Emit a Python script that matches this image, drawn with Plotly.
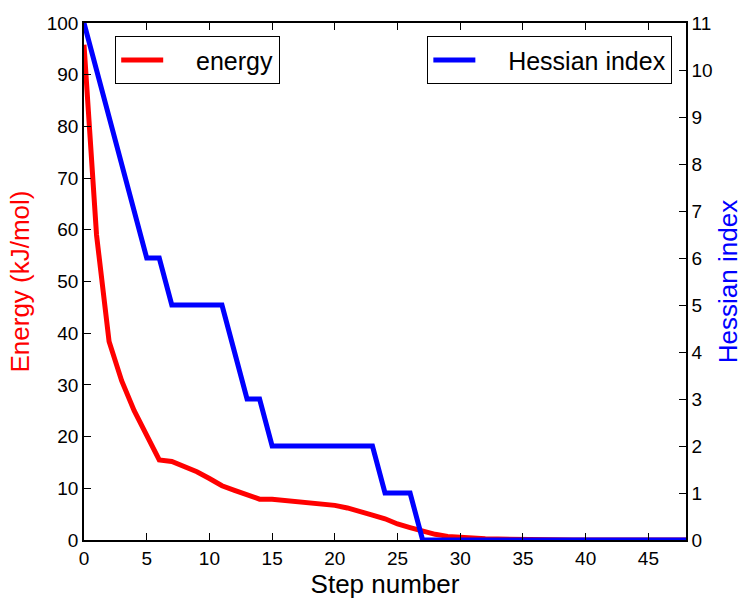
import plotly.graph_objects as go

steps = list(range(49))
energy = [95.8, 59.0, 38.4, 30.8, 25.0, 20.0, 15.5, 15.2, 14.3, 13.2, 11.9,
          10.5, 9.6, 8.7, 7.9, 7.9, 7.7, 7.5, 7.3, 7.0, 6.7, 6.2, 5.6, 4.8, 4.1,
          3.1, 2.4, 1.7, 1.1, 0.7, 0.5, 0.35, 0.25, 0.18, 0.12, 0.08, 0.05, 0.04,
          0.03, 0.02, 0.02, 0.01, 0.01, 0.01, 0.0, 0.0, 0.0, 0.0, 0.0]
hessian = [11, 10, 9, 8, 7, 6, 6, 5, 5, 5, 5, 5, 4, 3, 3, 2, 2, 2, 2, 2, 2, 2, 2, 2,
           1, 1, 1, 0, 0, 0, 0, 0, 0, 0, 0, 0, 0, 0, 0, 0, 0, 0, 0, 0, 0, 0, 0, 0, 0]

x_ticks = [0, 5, 10, 15, 20, 25, 30, 35, 40, 45]
y_ticks = list(range(0, 101, 10))
y2_ticks = list(range(0, 12))

FONT = "Arial, Liberation Sans, sans-serif"
NB = "\u00a0"

fig = go.Figure()
fig.add_trace(go.Scatter(x=steps, y=energy, mode="lines", name=NB * 4 + "energy",
                         line=dict(color="#ff0000", width=5), yaxis="y",
                         legend="legend"))
fig.add_trace(go.Scatter(x=steps, y=hessian, mode="lines",
                         name=NB * 4 + "Hessian index",
                         line=dict(color="#0000ff", width=5), yaxis="y2",
                         legend="legend2"))

axis_common = dict(ticks="inside", ticklen=7, tickwidth=1, tickcolor="black",
                   showline=True, linecolor="black", linewidth=1.5,
                   showgrid=False, zeroline=False, automargin=False,
                   tickfont=dict(size=19))

fig.update_layout(
    width=743, height=600,
    margin=dict(l=84, r=57, t=23, b=60),
    paper_bgcolor="white", plot_bgcolor="white",
    font=dict(family=FONT, size=19, color="black"),
    xaxis=dict(range=[0, 48], tickvals=x_ticks, mirror="ticks",
               title=dict(text="Step number", font=dict(size=26), standoff=3),
               **axis_common),
    yaxis=dict(range=[0, 100], tickvals=y_ticks,
               title=dict(text="Energy (kJ/mol)", font=dict(size=26, color="#ff0000"),
                          standoff=10),
               **axis_common),
    yaxis2=dict(range=[0, 11], tickvals=y2_ticks, overlaying="y", side="right",
                title=dict(text="Hessian index", font=dict(size=26, color="#0000ff"),
                           standoff=11),
                **axis_common),
    legend=dict(x=0.0515, y=0.975, xanchor="left", yanchor="top",
                bordercolor="black", borderwidth=1.2, bgcolor="white",
                font=dict(size=25), itemwidth=42),
    legend2=dict(x=0.977, y=0.975, xanchor="right", yanchor="top",
                 bordercolor="black", borderwidth=1.2, bgcolor="white",
                 font=dict(size=25), itemwidth=42),
    showlegend=True,
)

fig.write_html("out.html", config={"displayModeBar": False},
               post_script="document.body.style.margin='0';document.body.style.padding='0';")
